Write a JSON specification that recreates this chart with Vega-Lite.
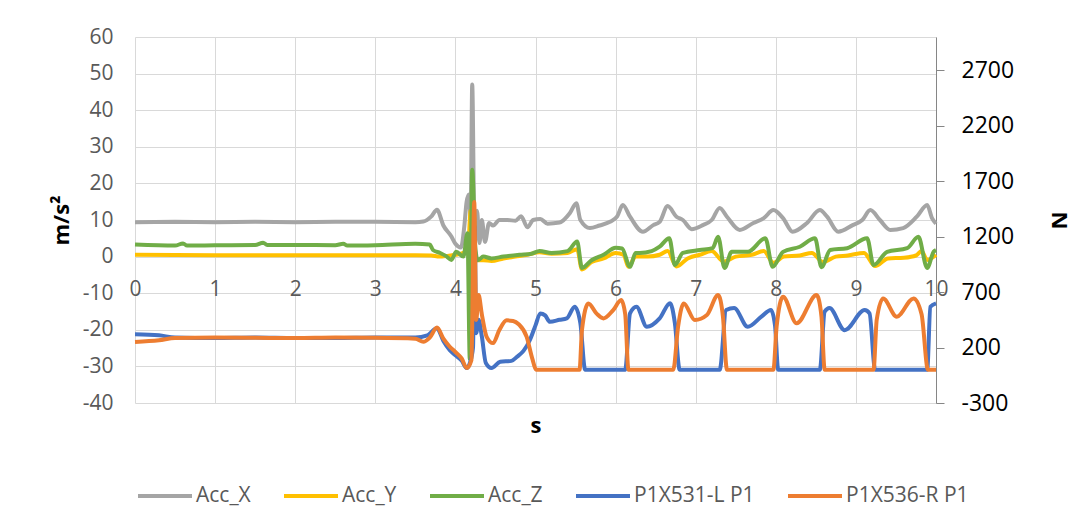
{
  "$schema": "https://vega.github.io/schema/vega-lite/v6.json",
  "width": 801,
  "height": 366,
  "autosize": {"type": "none"},
  "padding": {"left": 135, "top": 37, "right": 141, "bottom": 125},
  "background": "white",
  "config": {
    "view": {"stroke": null},
    "font": "Open Sans"
  },
  "datasets": {
    "acc": [
      {"s":"Acc_X","t":0,"v":9.4},{"s":"Acc_X","t":0.5,"v":9.5},{"s":"Acc_X","t":1,"v":9.4},{"s":"Acc_X","t":1.5,"v":9.5},{"s":"Acc_X","t":2,"v":9.4},{"s":"Acc_X","t":2.5,"v":9.5},{"s":"Acc_X","t":3,"v":9.5},{"s":"Acc_X","t":3.5,"v":9.4},{"s":"Acc_X","t":3.6,"v":9.6},{"s":"Acc_X","t":3.7,"v":11},{"s":"Acc_X","t":3.77,"v":12.8},{"s":"Acc_X","t":3.85,"v":8.5},{"s":"Acc_X","t":3.95,"v":5.5},{"s":"Acc_X","t":4.0,"v":3.5},{"s":"Acc_X","t":4.07,"v":2.5},{"s":"Acc_X","t":4.11,"v":8},{"s":"Acc_X","t":4.14,"v":15},{"s":"Acc_X","t":4.17,"v":17},{"s":"Acc_X","t":4.19,"v":10},{"s":"Acc_X","t":4.21,"v":47},{"s":"Acc_X","t":4.24,"v":4},{"s":"Acc_X","t":4.27,"v":12.5},{"s":"Acc_X","t":4.3,"v":3.7},{"s":"Acc_X","t":4.33,"v":10},{"s":"Acc_X","t":4.37,"v":4},{"s":"Acc_X","t":4.42,"v":9.2},{"s":"Acc_X","t":4.47,"v":8.5},{"s":"Acc_X","t":4.55,"v":10},{"s":"Acc_X","t":4.65,"v":10},{"s":"Acc_X","t":4.75,"v":9.8},{"s":"Acc_X","t":4.82,"v":11},{"s":"Acc_X","t":4.9,"v":8},{"s":"Acc_X","t":4.97,"v":10},{"s":"Acc_X","t":5.06,"v":10.3},{"s":"Acc_X","t":5.15,"v":9},{"s":"Acc_X","t":5.3,"v":9.3},{"s":"Acc_X","t":5.43,"v":11.9},{"s":"Acc_X","t":5.51,"v":14.6},{"s":"Acc_X","t":5.56,"v":10},{"s":"Acc_X","t":5.68,"v":7.8},{"s":"Acc_X","t":5.8,"v":8.5},{"s":"Acc_X","t":5.93,"v":9.5},{"s":"Acc_X","t":6.02,"v":11},{"s":"Acc_X","t":6.09,"v":14.1},{"s":"Acc_X","t":6.18,"v":10.9},{"s":"Acc_X","t":6.34,"v":6.8},{"s":"Acc_X","t":6.47,"v":8.6},{"s":"Acc_X","t":6.55,"v":9.5},{"s":"Acc_X","t":6.65,"v":13.8},{"s":"Acc_X","t":6.76,"v":10.9},{"s":"Acc_X","t":6.84,"v":10},{"s":"Acc_X","t":6.95,"v":7.5},{"s":"Acc_X","t":7.09,"v":8.6},{"s":"Acc_X","t":7.2,"v":10},{"s":"Acc_X","t":7.3,"v":13.3},{"s":"Acc_X","t":7.39,"v":10.9},{"s":"Acc_X","t":7.55,"v":7.3},{"s":"Acc_X","t":7.72,"v":9.2},{"s":"Acc_X","t":7.85,"v":10.5},{"s":"Acc_X","t":7.97,"v":12.7},{"s":"Acc_X","t":8.09,"v":10.5},{"s":"Acc_X","t":8.21,"v":6.8},{"s":"Acc_X","t":8.39,"v":9.2},{"s":"Acc_X","t":8.55,"v":12.7},{"s":"Acc_X","t":8.64,"v":10.9},{"s":"Acc_X","t":8.78,"v":6.8},{"s":"Acc_X","t":8.96,"v":8.6},{"s":"Acc_X","t":9.08,"v":10},{"s":"Acc_X","t":9.18,"v":12.7},{"s":"Acc_X","t":9.3,"v":10},{"s":"Acc_X","t":9.43,"v":7.3},{"s":"Acc_X","t":9.59,"v":7.8},{"s":"Acc_X","t":9.76,"v":10.9},{"s":"Acc_X","t":9.89,"v":14.1},{"s":"Acc_X","t":9.95,"v":10.5},{"s":"Acc_X","t":10,"v":9},
      {"s":"Acc_Y","t":0,"v":0.5},{"s":"Acc_Y","t":1,"v":0.4},{"s":"Acc_Y","t":2,"v":0.4},{"s":"Acc_Y","t":3,"v":0.4},{"s":"Acc_Y","t":3.5,"v":0.4},{"s":"Acc_Y","t":3.7,"v":0.3},{"s":"Acc_Y","t":3.8,"v":0},{"s":"Acc_Y","t":3.9,"v":0.2},{"s":"Acc_Y","t":4.0,"v":0.5},{"s":"Acc_Y","t":4.1,"v":1},{"s":"Acc_Y","t":4.16,"v":3},{"s":"Acc_Y","t":4.19,"v":12.5},{"s":"Acc_Y","t":4.21,"v":5},{"s":"Acc_Y","t":4.24,"v":2},{"s":"Acc_Y","t":4.27,"v":-1},{"s":"Acc_Y","t":4.35,"v":-1},{"s":"Acc_Y","t":4.45,"v":-1.2},{"s":"Acc_Y","t":4.6,"v":-0.5},{"s":"Acc_Y","t":4.75,"v":0},{"s":"Acc_Y","t":4.9,"v":0.5},{"s":"Acc_Y","t":5.05,"v":1.2},{"s":"Acc_Y","t":5.2,"v":0.8},{"s":"Acc_Y","t":5.4,"v":1},{"s":"Acc_Y","t":5.52,"v":2},{"s":"Acc_Y","t":5.58,"v":-3.5},{"s":"Acc_Y","t":5.7,"v":-1.5},{"s":"Acc_Y","t":5.85,"v":-0.5},{"s":"Acc_Y","t":6.0,"v":1},{"s":"Acc_Y","t":6.1,"v":0.5},{"s":"Acc_Y","t":6.16,"v":-2.8},{"s":"Acc_Y","t":6.25,"v":0},{"s":"Acc_Y","t":6.4,"v":0},{"s":"Acc_Y","t":6.55,"v":0.5},{"s":"Acc_Y","t":6.65,"v":1.5},{"s":"Acc_Y","t":6.76,"v":-2.7},{"s":"Acc_Y","t":6.9,"v":-0.5},{"s":"Acc_Y","t":7.05,"v":0.5},{"s":"Acc_Y","t":7.2,"v":1.5},{"s":"Acc_Y","t":7.35,"v":-1.4},{"s":"Acc_Y","t":7.5,"v":0},{"s":"Acc_Y","t":7.7,"v":0.5},{"s":"Acc_Y","t":7.85,"v":1.5},{"s":"Acc_Y","t":7.97,"v":-1.7},{"s":"Acc_Y","t":8.1,"v":0},{"s":"Acc_Y","t":8.3,"v":0.3},{"s":"Acc_Y","t":8.45,"v":1},{"s":"Acc_Y","t":8.59,"v":-1.5},{"s":"Acc_Y","t":8.75,"v":0},{"s":"Acc_Y","t":8.9,"v":0.3},{"s":"Acc_Y","t":9.1,"v":1},{"s":"Acc_Y","t":9.24,"v":-2.6},{"s":"Acc_Y","t":9.4,"v":-0.5},{"s":"Acc_Y","t":9.6,"v":-0.3},{"s":"Acc_Y","t":9.75,"v":0.3},{"s":"Acc_Y","t":9.82,"v":1.5},{"s":"Acc_Y","t":9.89,"v":-0.9},{"s":"Acc_Y","t":10,"v":0.5},
      {"s":"Acc_Z","t":0,"v":3.3},{"s":"Acc_Z","t":0.5,"v":3.0},{"s":"Acc_Z","t":0.6,"v":3.6},{"s":"Acc_Z","t":0.65,"v":3.0},{"s":"Acc_Z","t":1,"v":3.1},{"s":"Acc_Z","t":1.5,"v":3.2},{"s":"Acc_Z","t":1.6,"v":3.8},{"s":"Acc_Z","t":1.65,"v":3.2},{"s":"Acc_Z","t":2,"v":3.2},{"s":"Acc_Z","t":2.5,"v":3.1},{"s":"Acc_Z","t":2.6,"v":3.5},{"s":"Acc_Z","t":2.65,"v":3.0},{"s":"Acc_Z","t":3,"v":3.1},{"s":"Acc_Z","t":3.5,"v":3.5},{"s":"Acc_Z","t":3.68,"v":3.3},{"s":"Acc_Z","t":3.72,"v":1.8},{"s":"Acc_Z","t":3.81,"v":1},{"s":"Acc_Z","t":3.88,"v":0.2},{"s":"Acc_Z","t":3.95,"v":-0.9},{"s":"Acc_Z","t":4.01,"v":1.3},{"s":"Acc_Z","t":4.1,"v":0},{"s":"Acc_Z","t":4.15,"v":6.4},{"s":"Acc_Z","t":4.18,"v":-28},{"s":"Acc_Z","t":4.21,"v":23.7},{"s":"Acc_Z","t":4.25,"v":2},{"s":"Acc_Z","t":4.28,"v":-1},{"s":"Acc_Z","t":4.35,"v":0},{"s":"Acc_Z","t":4.45,"v":-0.5},{"s":"Acc_Z","t":4.6,"v":0},{"s":"Acc_Z","t":4.8,"v":0.5},{"s":"Acc_Z","t":4.95,"v":0.8},{"s":"Acc_Z","t":5.05,"v":1.5},{"s":"Acc_Z","t":5.2,"v":1},{"s":"Acc_Z","t":5.4,"v":1.5},{"s":"Acc_Z","t":5.52,"v":4.1},{"s":"Acc_Z","t":5.58,"v":-3.1},{"s":"Acc_Z","t":5.7,"v":-1},{"s":"Acc_Z","t":5.85,"v":0.5},{"s":"Acc_Z","t":6.0,"v":2.4},{"s":"Acc_Z","t":6.08,"v":2.2},{"s":"Acc_Z","t":6.18,"v":-2.8},{"s":"Acc_Z","t":6.25,"v":1},{"s":"Acc_Z","t":6.3,"v":1},{"s":"Acc_Z","t":6.45,"v":1.5},{"s":"Acc_Z","t":6.55,"v":2.7},{"s":"Acc_Z","t":6.67,"v":5},{"s":"Acc_Z","t":6.74,"v":-2.3},{"s":"Acc_Z","t":6.84,"v":1},{"s":"Acc_Z","t":7.05,"v":1.8},{"s":"Acc_Z","t":7.21,"v":2.3},{"s":"Acc_Z","t":7.28,"v":5.4},{"s":"Acc_Z","t":7.36,"v":-3.1},{"s":"Acc_Z","t":7.45,"v":1.3},{"s":"Acc_Z","t":7.65,"v":1.3},{"s":"Acc_Z","t":7.87,"v":5},{"s":"Acc_Z","t":7.96,"v":-2.8},{"s":"Acc_Z","t":8.09,"v":1.3},{"s":"Acc_Z","t":8.3,"v":2.7},{"s":"Acc_Z","t":8.49,"v":5},{"s":"Acc_Z","t":8.57,"v":-2.9},{"s":"Acc_Z","t":8.68,"v":1.8},{"s":"Acc_Z","t":8.89,"v":2.3},{"s":"Acc_Z","t":9.14,"v":5},{"s":"Acc_Z","t":9.22,"v":-2.3},{"s":"Acc_Z","t":9.39,"v":1.3},{"s":"Acc_Z","t":9.64,"v":2.3},{"s":"Acc_Z","t":9.78,"v":5.4},{"s":"Acc_Z","t":9.89,"v":-3.1},{"s":"Acc_Z","t":9.97,"v":1.3},{"s":"Acc_Z","t":10,"v":1.8}
    ],
    "force": [
      {"s":"P1X531-L P1","t":0,"v":320},{"s":"P1X531-L P1","t":0.3,"v":310},{"s":"P1X531-L P1","t":0.5,"v":290},{"s":"P1X531-L P1","t":1,"v":285},{"s":"P1X531-L P1","t":1.5,"v":290},{"s":"P1X531-L P1","t":2,"v":285},{"s":"P1X531-L P1","t":2.5,"v":285},{"s":"P1X531-L P1","t":3,"v":290},{"s":"P1X531-L P1","t":3.5,"v":290},{"s":"P1X531-L P1","t":3.65,"v":310},{"s":"P1X531-L P1","t":3.77,"v":373},{"s":"P1X531-L P1","t":3.85,"v":260},{"s":"P1X531-L P1","t":3.93,"v":177},{"s":"P1X531-L P1","t":4.0,"v":130},{"s":"P1X531-L P1","t":4.08,"v":80},{"s":"P1X531-L P1","t":4.14,"v":15},{"s":"P1X531-L P1","t":4.18,"v":60},{"s":"P1X531-L P1","t":4.22,"v":200},{"s":"P1X531-L P1","t":4.24,"v":1290},{"s":"P1X531-L P1","t":4.26,"v":330},{"s":"P1X531-L P1","t":4.29,"v":450},{"s":"P1X531-L P1","t":4.33,"v":300},{"s":"P1X531-L P1","t":4.38,"v":60},{"s":"P1X531-L P1","t":4.45,"v":15},{"s":"P1X531-L P1","t":4.56,"v":72},{"s":"P1X531-L P1","t":4.7,"v":80},{"s":"P1X531-L P1","t":4.77,"v":117},{"s":"P1X531-L P1","t":4.85,"v":170},{"s":"P1X531-L P1","t":4.93,"v":268},{"s":"P1X531-L P1","t":5.0,"v":400},{"s":"P1X531-L P1","t":5.06,"v":508},{"s":"P1X531-L P1","t":5.12,"v":490},{"s":"P1X531-L P1","t":5.18,"v":432},{"s":"P1X531-L P1","t":5.3,"v":450},{"s":"P1X531-L P1","t":5.39,"v":463},{"s":"P1X531-L P1","t":5.49,"v":568},{"s":"P1X531-L P1","t":5.56,"v":420},{"s":"P1X531-L P1","t":5.62,"v":0},{"s":"P1X531-L P1","t":6.12,"v":0},{"s":"P1X531-L P1","t":6.18,"v":508},{"s":"P1X531-L P1","t":6.26,"v":568},{"s":"P1X531-L P1","t":6.39,"v":387},{"s":"P1X531-L P1","t":6.55,"v":463},{"s":"P1X531-L P1","t":6.68,"v":600},{"s":"P1X531-L P1","t":6.74,"v":420},{"s":"P1X531-L P1","t":6.8,"v":0},{"s":"P1X531-L P1","t":7.3,"v":0},{"s":"P1X531-L P1","t":7.38,"v":538},{"s":"P1X531-L P1","t":7.48,"v":556},{"s":"P1X531-L P1","t":7.65,"v":387},{"s":"P1X531-L P1","t":7.82,"v":478},{"s":"P1X531-L P1","t":7.94,"v":538},{"s":"P1X531-L P1","t":7.99,"v":400},{"s":"P1X531-L P1","t":8.03,"v":0},{"s":"P1X531-L P1","t":8.55,"v":0},{"s":"P1X531-L P1","t":8.61,"v":523},{"s":"P1X531-L P1","t":8.67,"v":556},{"s":"P1X531-L P1","t":8.86,"v":357},{"s":"P1X531-L P1","t":9.11,"v":538},{"s":"P1X531-L P1","t":9.17,"v":508},{"s":"P1X531-L P1","t":9.24,"v":0},{"s":"P1X531-L P1","t":9.89,"v":0},{"s":"P1X531-L P1","t":9.93,"v":568},{"s":"P1X531-L P1","t":10,"v":598},
      {"s":"P1X536-R P1","t":0,"v":250},{"s":"P1X536-R P1","t":0.3,"v":265},{"s":"P1X536-R P1","t":0.5,"v":285},{"s":"P1X536-R P1","t":1,"v":290},{"s":"P1X536-R P1","t":1.5,"v":288},{"s":"P1X536-R P1","t":2,"v":285},{"s":"P1X536-R P1","t":2.5,"v":290},{"s":"P1X536-R P1","t":3,"v":288},{"s":"P1X536-R P1","t":3.5,"v":280},{"s":"P1X536-R P1","t":3.6,"v":252},{"s":"P1X536-R P1","t":3.68,"v":290},{"s":"P1X536-R P1","t":3.77,"v":380},{"s":"P1X536-R P1","t":3.85,"v":280},{"s":"P1X536-R P1","t":3.93,"v":207},{"s":"P1X536-R P1","t":4.0,"v":160},{"s":"P1X536-R P1","t":4.08,"v":100},{"s":"P1X536-R P1","t":4.14,"v":15},{"s":"P1X536-R P1","t":4.2,"v":87},{"s":"P1X536-R P1","t":4.235,"v":1513},{"s":"P1X536-R P1","t":4.26,"v":448},{"s":"P1X536-R P1","t":4.29,"v":673},{"s":"P1X536-R P1","t":4.33,"v":500},{"s":"P1X536-R P1","t":4.39,"v":297},{"s":"P1X536-R P1","t":4.47,"v":240},{"s":"P1X536-R P1","t":4.55,"v":360},{"s":"P1X536-R P1","t":4.64,"v":445},{"s":"P1X536-R P1","t":4.72,"v":440},{"s":"P1X536-R P1","t":4.79,"v":410},{"s":"P1X536-R P1","t":4.89,"v":297},{"s":"P1X536-R P1","t":4.96,"v":100},{"s":"P1X536-R P1","t":5.01,"v":0},{"s":"P1X536-R P1","t":5.55,"v":0},{"s":"P1X536-R P1","t":5.58,"v":357},{"s":"P1X536-R P1","t":5.66,"v":598},{"s":"P1X536-R P1","t":5.76,"v":508},{"s":"P1X536-R P1","t":5.85,"v":463},{"s":"P1X536-R P1","t":5.97,"v":538},{"s":"P1X536-R P1","t":6.07,"v":628},{"s":"P1X536-R P1","t":6.12,"v":500},{"s":"P1X536-R P1","t":6.16,"v":0},{"s":"P1X536-R P1","t":6.72,"v":0},{"s":"P1X536-R P1","t":6.78,"v":387},{"s":"P1X536-R P1","t":6.85,"v":598},{"s":"P1X536-R P1","t":6.99,"v":448},{"s":"P1X536-R P1","t":7.14,"v":493},{"s":"P1X536-R P1","t":7.28,"v":673},{"s":"P1X536-R P1","t":7.34,"v":480},{"s":"P1X536-R P1","t":7.39,"v":0},{"s":"P1X536-R P1","t":7.97,"v":0},{"s":"P1X536-R P1","t":8.01,"v":387},{"s":"P1X536-R P1","t":8.09,"v":658},{"s":"P1X536-R P1","t":8.26,"v":418},{"s":"P1X536-R P1","t":8.51,"v":673},{"s":"P1X536-R P1","t":8.57,"v":480},{"s":"P1X536-R P1","t":8.61,"v":0},{"s":"P1X536-R P1","t":9.22,"v":0},{"s":"P1X536-R P1","t":9.26,"v":450},{"s":"P1X536-R P1","t":9.34,"v":643},{"s":"P1X536-R P1","t":9.51,"v":478},{"s":"P1X536-R P1","t":9.72,"v":643},{"s":"P1X536-R P1","t":9.82,"v":500},{"s":"P1X536-R P1","t":9.9,"v":0},{"s":"P1X536-R P1","t":10,"v":0}
    ]
  },
  "layer": [
    {
      "data": {"name": "acc"},
      "mark": {"type": "line", "strokeWidth": 4, "interpolate": "monotone"},
      "encoding": {
        "x": {
          "field": "t", "type": "quantitative",
          "scale": {"domain": [0, 10], "nice": false, "zero": false},
          "axis": {
            "orient": "bottom",
            "values": [0,1,2,3,4,5,6,7,8,9,10],
            "grid": true, "gridColor": "#D9D9D9", "gridWidth": 1,
            "labels": false, "ticks": false, "domain": false,
            "title": "s", "titleFontSize": 22, "titleFontWeight": "bold", "titleColor": "#000000",
            "titlePadding": 12
          }
        },
        "y": {
          "field": "v", "type": "quantitative",
          "scale": {"domain": [-40, 60], "nice": false, "zero": false},
          "axis": {
            "values": [-40,-30,-20,-10,0,10,20,30,40,50,60],
            "labelExpr": "datum.value < 0 ? '-' + abs(datum.value) : '' + datum.value",
            "grid": true, "gridColor": "#D9D9D9", "gridWidth": 1,
            "ticks": false, "domain": false,
            "labelFontSize": 21, "labelColor": "#595959", "labelPadding": 22,
            "title": "m/s²", "titleFontSize": 22, "titleFontWeight": "bold", "titleColor": "#000000",
            "titlePadding": 9
          }
        },
        "color": {
          "field": "s", "type": "nominal",
          "scale": {
            "domain": ["Acc_X", "Acc_Y", "Acc_Z", "P1X531-L P1", "P1X536-R P1"],
            "range": ["#A5A5A5", "#FFC000", "#70AD47", "#4472C4", "#ED7D31"]
          },
          "legend": {
            "title": null, "orient": "none", "direction": "horizontal",
            "legendX": 1, "legendY": 430,
            "symbolType": "stroke", "symbolSize": 2916, "symbolStrokeWidth": 4,
            "labelFontSize": 21, "labelColor": "#595959", "labelOffset": 2,
            "columnPadding": 25, "padding": 0
          }
        }
      }
    },
    {
      "data": {"name": "force"},
      "mark": {"type": "line", "strokeWidth": 4, "interpolate": "monotone"},
      "encoding": {
        "x": {
          "field": "t", "type": "quantitative",
          "scale": {"domain": [0, 10], "nice": false, "zero": false},
          "axis": {
            "orient": "bottom",
            "values": [0,1,2,3,4,5,6,7,8,9,10], "format": "d",
            "grid": false, "ticks": false, "domain": false,
            "offset": -114, "labelPadding": 0, "labelBaseline": "middle",
            "labelFlush": false, "labelOverlap": false,
            "labelFontSize": 21, "labelColor": "#595959",
            "title": null
          }
        },
        "y": {
          "field": "v", "type": "quantitative",
          "scale": {"domain": [-300, 3000], "nice": false, "zero": false},
          "axis": {
            "orient": "right",
            "values": [-300, 200, 700, 1200, 1700, 2200, 2700],
            "labelExpr": "datum.value < 0 ? '-' + abs(datum.value) : '' + datum.value",
            "grid": false,
            "domain": true, "domainColor": "#868686", "domainWidth": 1,
            "ticks": true, "tickColor": "#868686", "tickSize": 8, "tickWidth": 1,
            "labelFontSize": 23, "labelColor": "#000000", "labelPadding": 17,
            "title": "N", "titleFontSize": 22, "titleFontWeight": "bold", "titleColor": "#000000",
            "titlePadding": 33
          }
        },
        "color": {"field": "s", "type": "nominal"}
      }
    }
  ],
  "resolve": {"scale": {"y": "independent"}, "axis": {"x": "independent"}}
}
